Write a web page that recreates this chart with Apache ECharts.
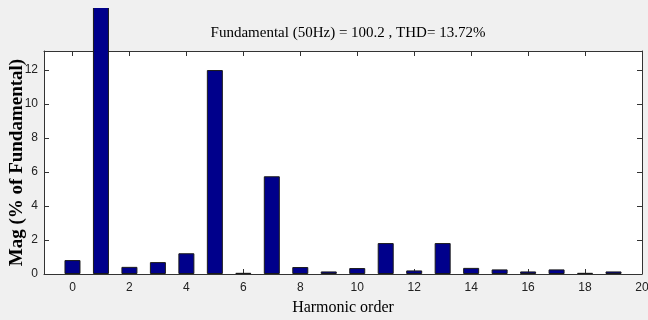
<!DOCTYPE html>
<html>
<head>
<meta charset="utf-8">
<script src="https://cdn.jsdelivr.net/npm/echarts@6/dist/echarts.min.js"></script>
<style>
html,body{margin:0;padding:0;background:#f0f0f0;width:648px;height:320px;overflow:hidden;}
#c{position:absolute;left:0;top:8px;width:648px;height:312px;}
</style>
</head>
<body>
<div id="c"></div>
<script>
// Data
var harmonicOrder = [0,1,2,3,4,5,6,7,8,9,10,11,12,13,14,15,16,17,18,19];
var magnitude = [0.82,100,0.42,0.7,1.22,12.0,0.07,5.75,0.41,0.15,0.35,1.82,0.21,1.82,0.36,0.27,0.15,0.27,0.07,0.15];
var xTicks = [0,2,4,6,8,10,12,14,16,18,20];
var yTicks = [0,2,4,6,8,10,12];
var titleText = 'Fundamental (50Hz) = 100.2 , THD= 13.72%';
var xName = 'Harmonic order';
var yName = 'Mag (% of Fundamental)';

var barData = harmonicOrder.map(function(h,i){ return [h, magnitude[i]]; });
var labelFont = {fontFamily:'Liberation Sans Narrow, Liberation Sans, Arial', fontSize:12, color:'#222'};
var lineStyle = {color:'#333', width:1};

var chart = echarts.init(document.getElementById('c'));
chart.setOption({
  backgroundColor:'#f0f0f0',
  animation:false,
  title:{
    text:titleText, left:343, top:13, textAlign:'center',
    textStyle:{fontFamily:'Liberation Serif, Times New Roman, serif', fontSize:15, fontWeight:'normal', color:'#000'}
  },
  grid:{left:44, right:6, top:43, bottom:46, show:true, backgroundColor:'#fff', borderWidth:0,
        outerBoundsMode:'none', containLabel:false},
  xAxis:[{
    type:'value', min:-1, max:20, position:'bottom',
    axisLine:{show:true, onZero:false, lineStyle:lineStyle},
    axisTick:{show:true, inside:true, length:5, customValues:xTicks, lineStyle:lineStyle},
    axisLabel:Object.assign({customValues:xTicks, margin:8}, labelFont),
    splitLine:{show:false},
    name:xName, nameLocation:'middle', nameGap:26, nameMoveOverlap:false,
    nameTextStyle:{fontFamily:'Liberation Serif, Times New Roman, serif', fontSize:16, color:'#000'}
  },{
    type:'value', min:-1, max:20, position:'top',
    axisLine:{show:true, onZero:false, lineStyle:lineStyle},
    axisTick:{show:true, inside:true, length:5, customValues:xTicks, lineStyle:lineStyle},
    axisLabel:{show:false}, splitLine:{show:false}
  }],
  yAxis:[{
    type:'value', min:0, max:13.12, position:'left',
    axisLine:{show:true, onZero:false, lineStyle:lineStyle},
    axisTick:{show:true, inside:true, length:5, customValues:yTicks, lineStyle:lineStyle},
    axisLabel:Object.assign({customValues:yTicks, margin:6}, labelFont),
    splitLine:{show:false},
    name:yName, nameLocation:'middle', nameGap:17, nameMoveOverlap:false,
    nameTextStyle:{fontFamily:'Liberation Serif, Times New Roman, serif', fontSize:19, fontWeight:'bold', color:'#000'}
  },{
    type:'value', min:0, max:13.12, position:'right',
    axisLine:{show:true, onZero:false, lineStyle:lineStyle},
    axisTick:{show:true, inside:true, length:5, customValues:yTicks, lineStyle:lineStyle},
    axisLabel:{show:false}, splitLine:{show:false}
  }],
  series:[{
    type:'bar', xAxisIndex:0, yAxisIndex:0, data:barData, barWidth:16, clip:false,
    itemStyle:{color:'#00008b', borderColor:'#1a1a1a', borderWidth:1}
  }]
});
</script>
</body>
</html>
